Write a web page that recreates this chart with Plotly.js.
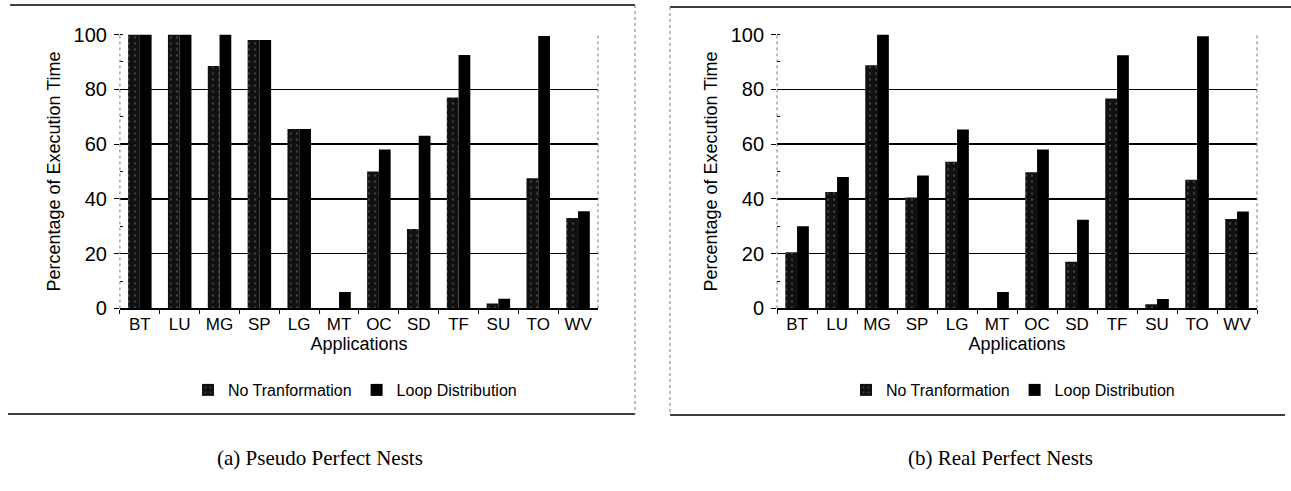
<!DOCTYPE html>
<html>
<head>
<meta charset="utf-8">
<script src="https://cdn.plot.ly/plotly-3.0.1.min.js"></script>
<style>
  html, body { margin: 0; padding: 0; background: #fff; }
  #chart { width: 1291px; height: 491px; }
</style>
</head>
<body>
<div id="chart"></div>
<script>
// Benchmark applications on the x axis
const applications = ['BT', 'LU', 'MG', 'SP', 'LG', 'MT', 'OC', 'SD', 'TF', 'SU', 'TO', 'WV'];

// (a) Pseudo perfect nests: percentage of execution time
const pseudoNoTransform = [100, 100, 88.5, 98, 65.5, 0, 50, 29, 77, 1.8, 47.5, 33];
const pseudoLoopDist    = [100, 100, 100, 98, 65.5, 6, 58, 63, 92.5, 3.5, 99.5, 35.5];

// (b) Real perfect nests: percentage of execution time
const realNoTransform = [20.5, 42.5, 88.8, 40.5, 53.5, 0, 49.7, 17, 76.6, 1.5, 47, 32.6];
const realLoopDist    = [30, 48, 100, 48.5, 65.3, 6, 58, 32.4, 92.4, 3.4, 99.4, 35.4];

const seriesNames = ['No Tranformation', 'Loop Distribution'];
const panelCaptions = ['(a) Pseudo Perfect Nests', '(b) Real Perfect Nests'];

const SANS = 'Liberation Sans, Arial, Helvetica, sans-serif';
const SERIF = 'Liberation Serif, Times New Roman, serif';
const W = 1291, H = 491;
const px = v => v / W;          // horizontal pixel -> paper fraction
const py = v => 1 - v / H;      // vertical pixel -> paper fraction

// speckled dark fill for the untransformed runs, solid black for loop distribution
const speckled = {
  color: '#111111',
  line: { width: 0 },
  pattern: { shape: '.', fgcolor: '#9a9a9a', size: 6, solidity: 0.08, fillmode: 'overlay' }
};
const solid = { color: '#000000', line: { width: 0 } };

function barTrace(values, name, marker, xa, ya, legendId) {
  return {
    type: 'bar', x: applications, y: values, name: name,
    xaxis: xa, yaxis: ya, legend: legendId, marker: marker,
    hoverinfo: 'x+y+name'
  };
}

const data = [
  barTrace(pseudoNoTransform, seriesNames[0], speckled, 'x', 'y', 'legend'),
  barTrace(pseudoLoopDist, seriesNames[1], solid, 'x', 'y', 'legend'),
  barTrace(realNoTransform, seriesNames[0], speckled, 'x2', 'y2', 'legend2'),
  barTrace(realLoopDist, seriesNames[1], solid, 'x2', 'y2', 'legend2')
];

function xAxis(domain, yRef) {
  return {
    domain: domain, anchor: yRef, type: 'category',
    tickson: 'boundaries', ticks: 'outside', ticklen: 4, tickcolor: '#000', tickwidth: 1,
    showline: true, linecolor: '#000', linewidth: 1.5,
    showgrid: false, zeroline: false,
    tickfont: { family: SANS, size: 17, color: '#000' },
    title: { text: 'Applications', font: { family: SANS, size: 18, color: '#000' }, standoff: 0 },
    fixedrange: true
  };
}

function yAxis(xRef) {
  return {
    domain: [0.3719, 0.9297], anchor: xRef, range: [0, 100], dtick: 20,
    showgrid: true, gridcolor: '#000', gridwidth: 1.5,
    zeroline: false, showline: false,
    ticks: 'outside', ticklen: 5, tickcolor: '#000', tickwidth: 1,
    minor: { dtick: 10, ticks: 'inside', ticklen: 3, tickcolor: '#000', showgrid: false },
    tickfont: { family: SANS, size: 20, color: '#000' },
    ticklabelstandoff: 3,
    title: { text: 'Percentage of Execution Time', font: { family: SANS, size: 18, color: '#000' }, standoff: 8 },
    fixedrange: true
  };
}

function legendBox(xCenter) {
  return {
    x: xCenter, y: py(390), xanchor: 'center', yanchor: 'middle',
    orientation: 'h', bgcolor: 'rgba(0,0,0,0)',
    font: { family: SANS, size: 16, color: '#000' },
    itemclick: false, itemdoubleclick: false
  };
}

// dotted plot-area edges
function dottedEdge(xa, ya, xd) {
  return {
    type: 'line', xref: xa + ' domain', yref: ya + ' domain',
    x0: xd, x1: xd, y0: 0, y1: 1,
    line: { color: '#777', width: 1, dash: 'dot' }
  };
}

function paperLine(x0, y0, x1, y1, opts) {
  return Object.assign({
    type: 'line', xref: 'paper', yref: 'paper',
    x0: px(x0), x1: px(x1), y0: py(y0), y1: py(y1),
    line: { color: '#000', width: 1.5 }
  }, opts || {});
}

const shapes = [
  dottedEdge('x', 'y', 0), dottedEdge('x', 'y', 1),
  dottedEdge('x2', 'y2', 0), dottedEdge('x2', 'y2', 1),
  // panel frames
  paperLine(10, 5, 635, 5),
  paperLine(8, 414, 635, 414),
  paperLine(635, 5, 635, 414, { line: { color: '#777', width: 1, dash: 'dot' } }),
  paperLine(670, 7, 1291, 7),
  paperLine(670, 415, 1285, 415),
  paperLine(670, 7, 670, 415, { line: { color: '#777', width: 1, dash: 'dot' } })
];

const annotations = [
  { text: panelCaptions[0], x: px(320), y: py(458), xref: 'paper', yref: 'paper',
    xanchor: 'center', yanchor: 'middle', showarrow: false,
    font: { family: SERIF, size: 21, color: '#000' } },
  { text: panelCaptions[1], x: px(1000), y: py(458), xref: 'paper', yref: 'paper',
    xanchor: 'center', yanchor: 'middle', showarrow: false,
    font: { family: SERIF, size: 21, color: '#000' } }
];

const layout = {
  width: W, height: H,
  margin: { l: 0, r: 0, t: 0, b: 0, autoexpand: false },
  paper_bgcolor: '#fff', plot_bgcolor: '#fff',
  barmode: 'group', bargap: 0.41, bargroupgap: 0,
  xaxis: xAxis([0.0929, 0.4632], 'y'),
  yaxis: yAxis('x'),
  xaxis2: xAxis([0.6019, 0.9737], 'y2'),
  yaxis2: yAxis('x2'),
  legend: legendBox(px(355)),
  legend2: legendBox(px(1013)),
  shapes: shapes,
  annotations: annotations,
  showlegend: true,
  font: { family: SANS, color: '#000' }
};

Plotly.newPlot('chart', data, layout, { displayModeBar: false, staticPlot: true });
</script>
</body>
</html>
